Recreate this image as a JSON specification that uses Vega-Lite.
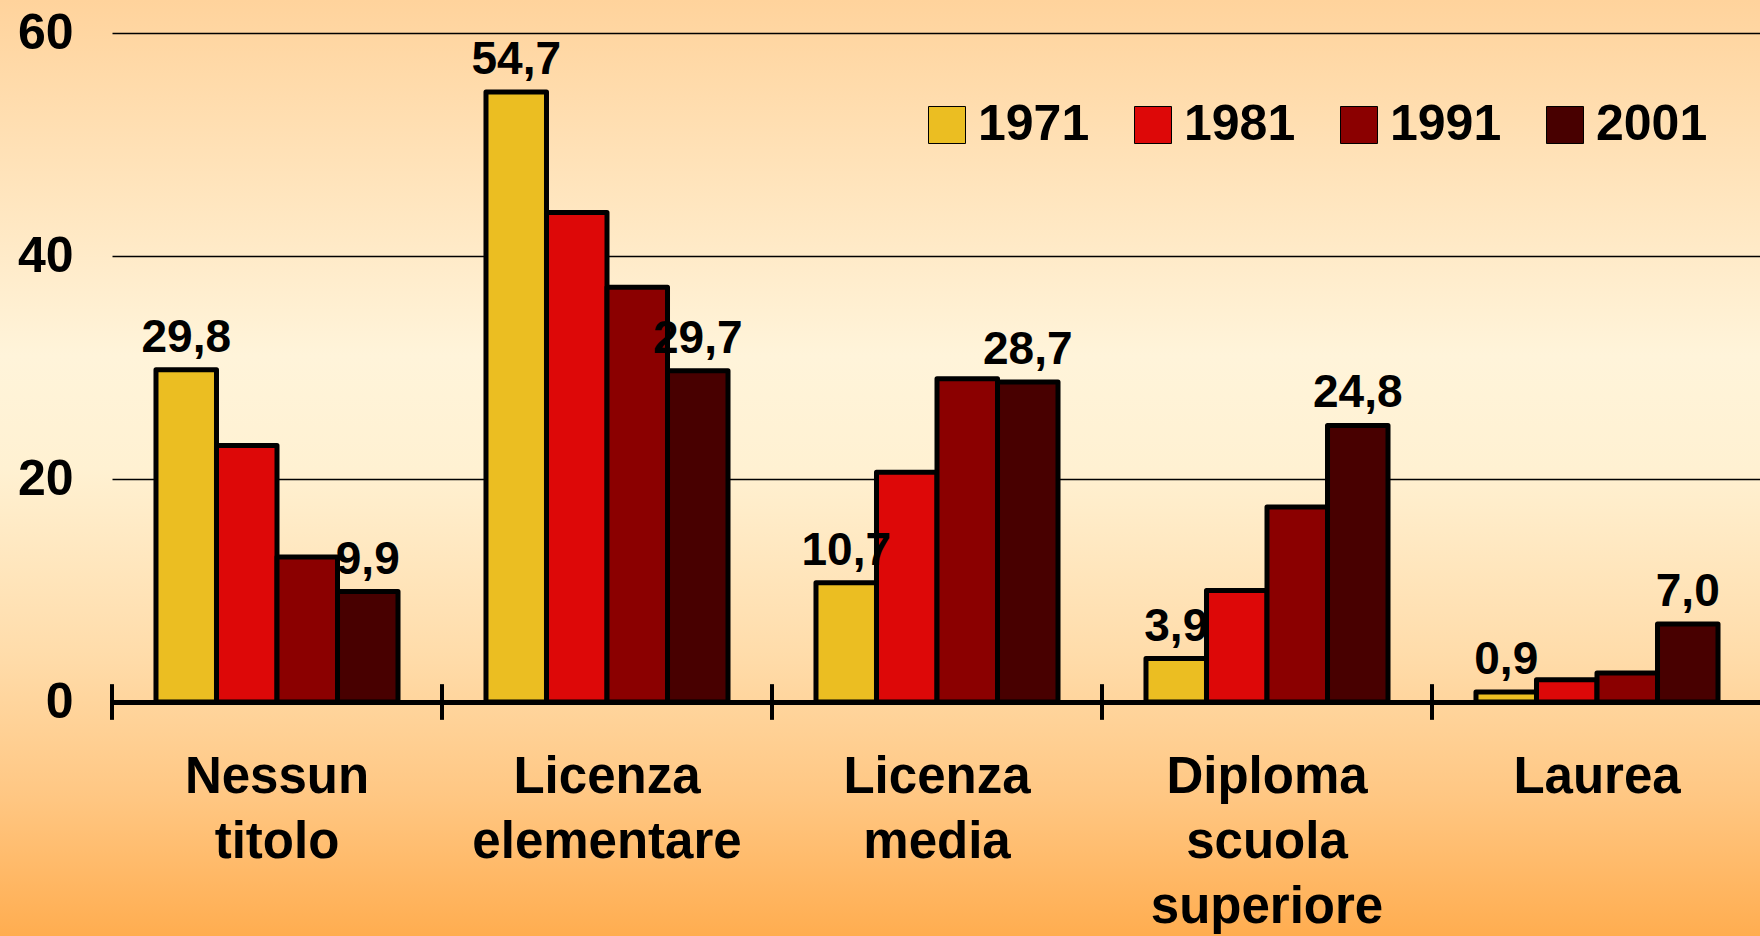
{
  "$schema": "https://vega.github.io/schema/vega-lite/v6.json",
  "width": 1760,
  "height": 936,
  "padding": 0,
  "autosize": {"type": "none"},
  "background": "#FFE6C0",
  "config": {
    "view": {
      "stroke": null,
      "fill": {
        "gradient": "linear", "x1": 0, "y1": 0, "x2": 0, "y2": 1,
        "stops": [
          {"offset": 0, "color": "#FFD39C"},
          {"offset": 0.38, "color": "#FFF4DA"},
          {"offset": 0.5, "color": "#FFF1D2"},
          {"offset": 0.7, "color": "#FFDCAA"},
          {"offset": 0.85, "color": "#FFC783"},
          {"offset": 1, "color": "#FFAD50"}
        ]
      }
    },
    "font": "Liberation Sans"
  },
  "data": {
    "values": [
      {"cat": "Nessun titolo", "year": "1971", "value": 29.8, "label": "29,8"},
      {"cat": "Nessun titolo", "year": "1981", "value": 23.0, "label": null},
      {"cat": "Nessun titolo", "year": "1991", "value": 13.0, "label": null},
      {"cat": "Nessun titolo", "year": "2001", "value": 9.9, "label": "9,9"},
      {"cat": "Licenza elementare", "year": "1971", "value": 54.7, "label": "54,7"},
      {"cat": "Licenza elementare", "year": "1981", "value": 43.9, "label": null},
      {"cat": "Licenza elementare", "year": "1991", "value": 37.2, "label": null},
      {"cat": "Licenza elementare", "year": "2001", "value": 29.7, "label": "29,7"},
      {"cat": "Licenza media", "year": "1971", "value": 10.7, "label": "10,7"},
      {"cat": "Licenza media", "year": "1981", "value": 20.6, "label": null},
      {"cat": "Licenza media", "year": "1991", "value": 29.0, "label": null},
      {"cat": "Licenza media", "year": "2001", "value": 28.7, "label": "28,7"},
      {"cat": "Diploma scuola superiore", "year": "1971", "value": 3.9, "label": "3,9"},
      {"cat": "Diploma scuola superiore", "year": "1981", "value": 10.0, "label": null},
      {"cat": "Diploma scuola superiore", "year": "1991", "value": 17.5, "label": null},
      {"cat": "Diploma scuola superiore", "year": "2001", "value": 24.8, "label": "24,8"},
      {"cat": "Laurea", "year": "1971", "value": 0.9, "label": "0,9"},
      {"cat": "Laurea", "year": "1981", "value": 2.0, "label": null},
      {"cat": "Laurea", "year": "1991", "value": 2.6, "label": null},
      {"cat": "Laurea", "year": "2001", "value": 7.0, "label": "7,0"}
    ]
  },
  "encoding": {
    "x": {
      "field": "cat", "type": "nominal", "sort": null,
      "scale": {"range": [112, 1762], "paddingInner": 0, "paddingOuter": 0},
      "axis": {
        "title": null, "orient": "bottom", "offset": -234,
        "domain": true, "domainColor": "black", "domainWidth": 5,
        "ticks": false, "tickSize": 0, "grid": false,
        "labelAngle": 0, "labelFontSize": 51, "labelFontWeight": "bold",
        "labelColor": "black", "labelPadding": 50, "labelBaseline": "top",
        "labelLineHeight": 65, "labelLimit": 0,
        "labelExpr": "split(datum.label, ' ')"
      }
    },
    "y": {
      "field": "value", "type": "quantitative",
      "scale": {"domain": [0, 60], "range": [702, 33], "nice": false},
      "axis": {
        "title": null, "orient": "left", "offset": -112,
        "values": [0, 20, 40, 60], "domain": false, "ticks": false, "tickSize": 0,
        "grid": true, "gridColor": "black", "gridWidth": 1.4, "gridOpacity": 1,
        "labelFontSize": 50, "labelFontWeight": "bold", "labelColor": "black",
        "labelPadding": 39, "labelBaseline": "middle"
      }
    }
  },
  "layer": [
    {
      "mark": {"type": "bar", "stroke": "black", "strokeWidth": 5, "strokeJoin": "round"},
      "encoding": {
        "xOffset": {"field": "year", "type": "nominal", "scale": {"paddingInner": 0, "paddingOuter": 0.727}},
        "color": {
          "field": "year", "type": "nominal",
          "scale": {"domain": ["1971", "1981", "1991", "2001"], "range": ["#EBBE22", "#DD0808", "#8B0000", "#480000"]},
          "legend": {
            "title": null, "orient": "none", "legendX": 922, "legendY": 100,
            "direction": "horizontal", "columns": 4, "columnPadding": 38,
            "symbolType": "square", "symbolSize": 1369, "symbolStrokeColor": "black",
            "symbolStrokeWidth": 1, "labelFontSize": 50, "labelFontWeight": "bold",
            "labelColor": "black", "labelOffset": 6, "padding": 0, "labelLimit": 0
          }
        }
      }
    },
    {
      "transform": [{"filter": "datum.year == '1971'"}],
      "mark": {"type": "rule", "color": "black", "strokeWidth": 4},
      "encoding": {
        "x": {"field": "cat", "type": "nominal", "sort": null, "bandPosition": 0},
        "y": {"datum": -1.6},
        "y2": {"datum": 1.6}
      }
    },
    {
      "transform": [{"filter": "datum.label != null"}],
      "mark": {"type": "text", "fontSize": 46, "fontWeight": "bold", "color": "black", "baseline": "alphabetic", "dy": -18},
      "encoding": {
        "xOffset": {"field": "year", "type": "nominal", "scale": {"paddingInner": 0, "paddingOuter": 0.727}},
        "text": {"field": "label"}
      }
    }
  ]
}
